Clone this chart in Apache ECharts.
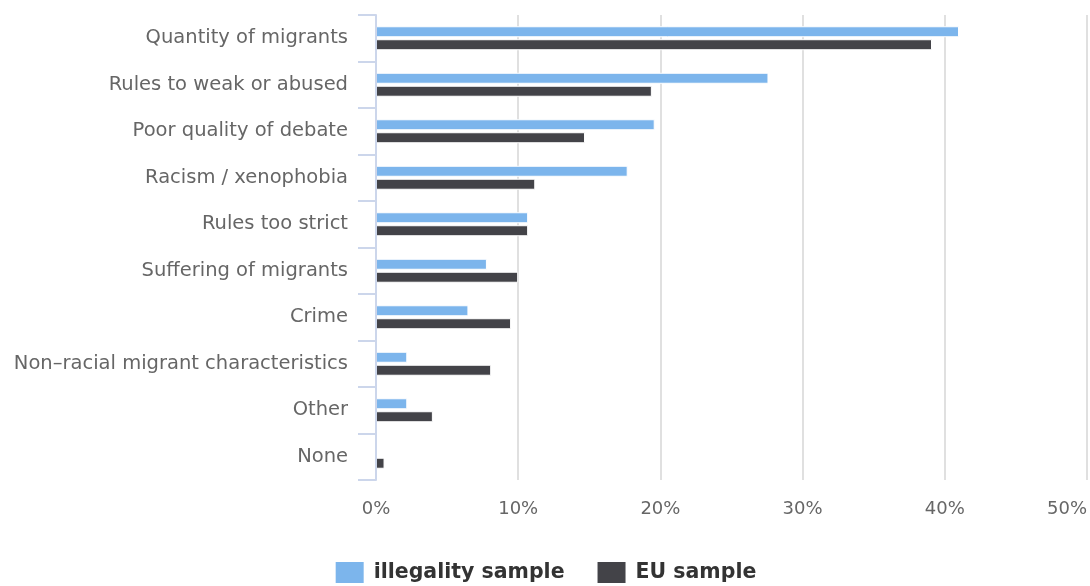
<!DOCTYPE html>
<html>
<head>
<meta charset="utf-8">
<script src="https://cdn.jsdelivr.net/npm/echarts@6/dist/echarts.min.js"></script>
<style>html,body{margin:0;padding:0;background:#fff}#c{width:1090px;height:586px}</style>
</head>
<body>
<div id="c"></div>
<script>
const categories = ["Quantity of migrants","Rules to weak or abused","Poor quality of debate","Racism / xenophobia","Rules too strict","Suffering of migrants","Crime","Non–racial migrant characteristics","Other","None"];
const illegalitySample = [41.0, 27.6, 19.6, 17.7, 10.7, 7.8, 6.5, 2.2, 2.2, 0];
const euSample = [39.1, 19.4, 14.7, 11.2, 10.7, 10.0, 9.5, 8.1, 4.0, 0.6];
const seriesNames = ["illegality sample", "EU sample"];
const FONT = "DejaVu Sans";
const chart = echarts.init(document.getElementById('c'));
chart.setOption({
  animation: false,
  grid: {left: 376, right: 1, top: 15, bottom: 106, containLabel: false},
  legend: {
    top: 555, left: 'center', itemWidth: 30, itemHeight: 23, itemGap: 31,
    icon: 'rect',
    textStyle: {fontFamily: FONT, fontSize: 20.5, fontWeight: 'bold', color: '#333', padding: [0, 0, 0, 4]},
    data: seriesNames
  },
  xAxis: {
    type: 'value', min: 0, max: 50, interval: 10,
    axisLine: {show: false}, axisTick: {show: false},
    splitLine: {lineStyle: {color: '#e0e0e0', width: 2}},
    axisLabel: {formatter: '{value}%', fontFamily: FONT, fontSize: 18, color: '#666', margin: 20, alignMaxLabel: 'right'}
  },
  yAxis: {
    type: 'category', data: categories, inverse: true, z: 5,
    axisLine: {show: true, lineStyle: {color: '#ccd6eb', width: 2}},
    axisTick: {show: true, alignWithLabel: false, length: 18, lineStyle: {color: '#ccd6eb', width: 2}},
    axisLabel: {fontFamily: FONT, fontSize: 19.5, color: '#666', margin: 28}
  },
  series: [
    {name: seriesNames[0], type: 'bar', data: illegalitySample, barWidth: 11, barGap: '18%',
     itemStyle: {color: '#7cb5ec', borderColor: '#fff', borderWidth: 1}},
    {name: seriesNames[1], type: 'bar', data: euSample, barWidth: 11,
     itemStyle: {color: '#434348', borderColor: '#fff', borderWidth: 1}}
  ]
});
</script>
</body>
</html>
